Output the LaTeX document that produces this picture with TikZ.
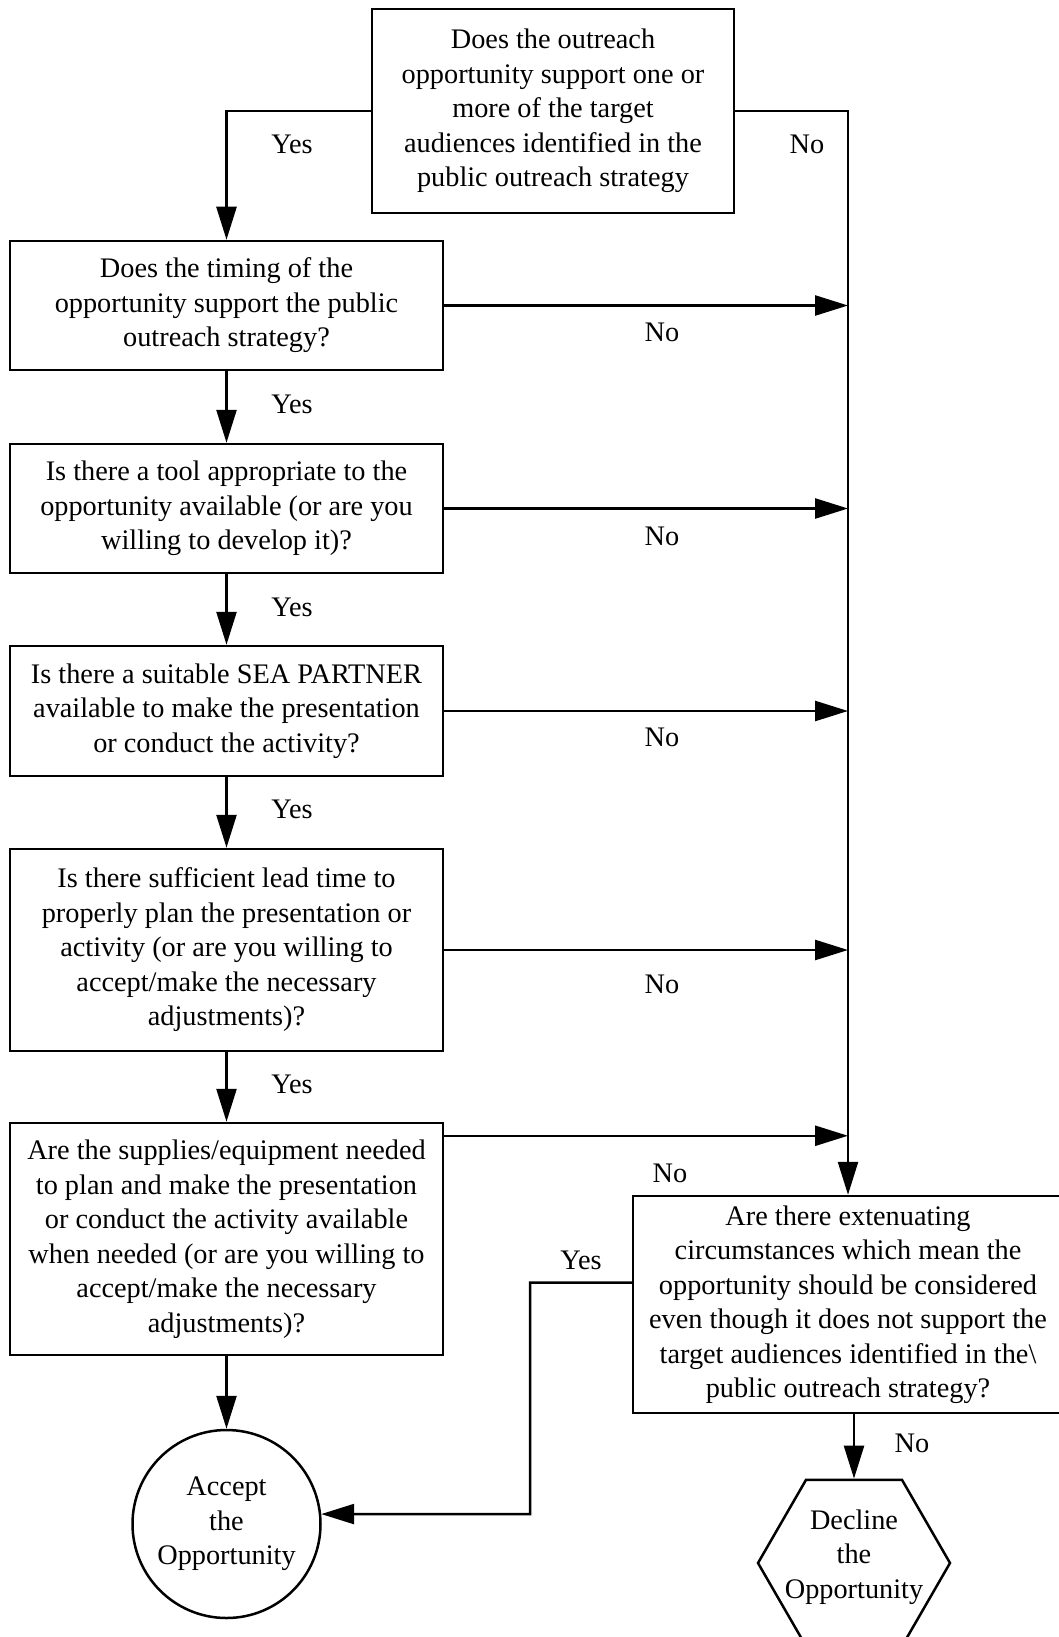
\documentclass[tikz,border=0pt]{standalone}
\usepackage{fontspec}
\setmainfont{Liberation Serif}
\usetikzlibrary{arrows.meta,shapes.geometric}

\tikzset{
  qbox/.style={draw, line width=2.5pt, minimum width=433pt, align=center, inner sep=2pt},
  endnode/.style={draw, line width=2.5pt, inner sep=0pt, align=center},
  flow/.style={line width=2.5pt, -{Triangle[length=33pt,width=20pt]}},
  lbl/.style={inner sep=0pt}
}

\begin{document}
\begin{tikzpicture}[x=1pt, y=-1pt, font=\fontsize{28.3}{34.5}\selectfont]
  \useasboundingbox (0,0) rectangle (1058,1637);
  % questions
  \node[qbox, minimum width=362pt, minimum height=204pt] (q1) at (553,111)
    {Does the outreach\\opportunity support one or\\more of the target\\audiences identified in the\\public outreach strategy};
  \node[qbox, minimum height=129pt] (q2) at (226.5,305.5)
    {Does the timing of the\\opportunity support the public\\outreach strategy?};
  \node[qbox, minimum height=129pt] (q3) at (226.5,508.5)
    {Is there a tool appropriate to the\\opportunity available (or are you\\willing to develop it)?};
  \node[qbox, minimum height=130pt] (q4) at (226.5,711)
    {Is there a suitable SEA PARTNER\\available to make the presentation\\or conduct the activity?};
  \node[qbox, minimum height=202pt] (q5) at (226.5,950)
    {Is there sufficient lead time to\\properly plan the presentation or\\activity (or are you willing to\\accept/make the necessary\\adjustments)?};
  \node[qbox, minimum height=232pt] (q6) at (226.5,1239)
    {Are the supplies/equipment needed\\to plan and make the presentation\\or conduct the activity available\\when needed (or are you willing to\\accept/make the necessary\\adjustments)?};
  \node[qbox, minimum width=430pt, minimum height=217pt] (q7) at (848,1304.5)
    {Are there extenuating\\circumstances which mean the\\opportunity should be considered\\even though it does not support the\\target audiences identified in the\textbackslash\\public outreach strategy?};
  % outcomes
  \node[endnode, circle, minimum size=188pt] (acc) at (226.5,1524) {Accept\\the\\Opportunity};
  \node[endnode, regular polygon, regular polygon sides=6, minimum size=192pt,
    label={[align=center, yshift=6pt]center:Decline\\the\\Opportunity}] (dec) at (854,1563) {};
  % connectors
  \coordinate (bend) at (530,1514);
  \draw[flow] (q1.west) -| (q2.north);
  \draw[flow] (q1.east) -| (q7.north);
  \foreach \a/\b in {q2/q3,q3/q4,q4/q5,q5/q6,q6/acc}
    \draw[flow] (\a) -- (\b);
  \foreach \q in {q2,q3,q4,q5}
    \draw[flow] (\q.east) -- (\q.east -| q7.north);
  \draw[flow] ([yshift=-14pt]q6.north east) -- ([yshift=-14pt]q6.north east -| q7.north);
  \draw[flow] ([yshift=22pt]q7.west) -| (bend) -- (acc.6);
  \draw[flow] (q7.south -| dec.north) -- (dec.north);
  % labels
  \node[lbl] (yes1) at (292,144) {Yes};
  \node[lbl] (no1) at (807,144) {No};
  \foreach \i/\y in {2/332,3/536,4/737,5/984}
    \node[lbl] (no\i) at (662,\y) {No};
  \foreach \i/\y in {2/404,3/607,4/809,5/1084}
    \node[lbl] (yes\i) at (292,\y) {Yes};
  \node[lbl] (no6) at (670,1173) {No};
  \node[lbl] (yes7) at (581,1260) {Yes};
  \node[lbl] (no7) at (912,1443) {No};
\end{tikzpicture}
\end{document}
